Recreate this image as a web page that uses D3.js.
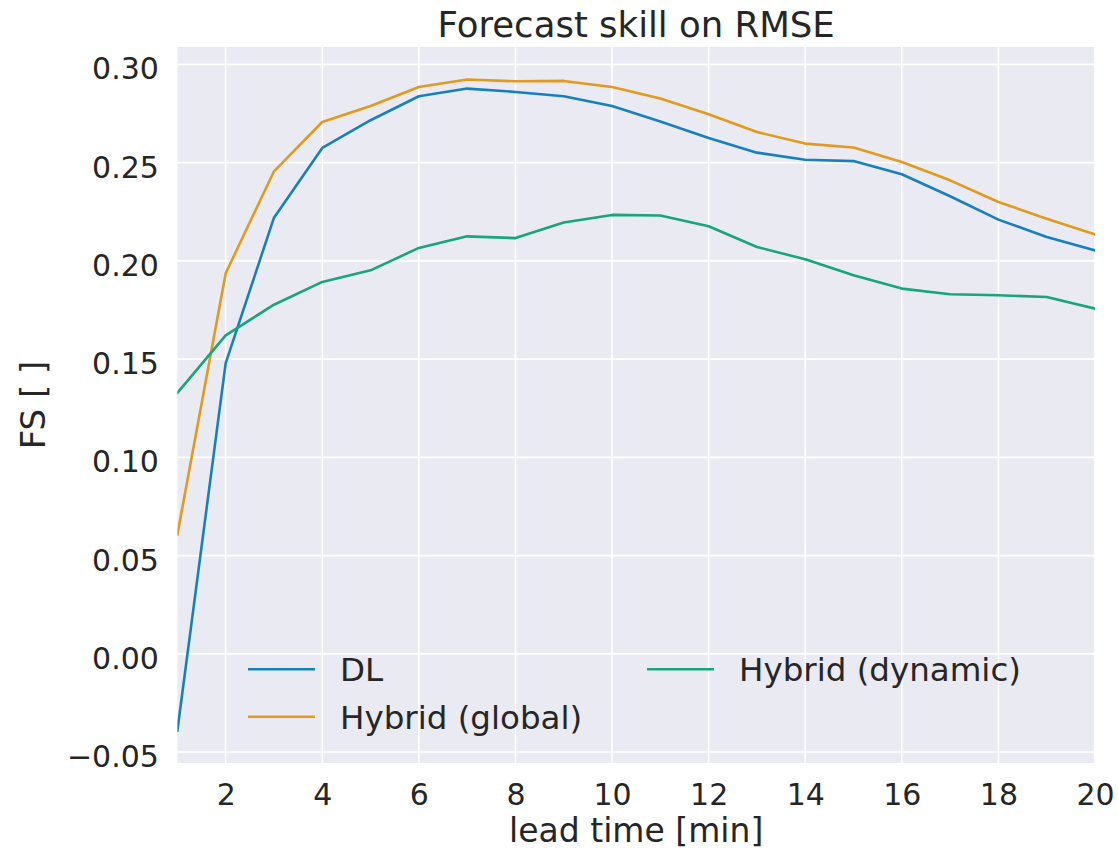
<!DOCTYPE html>
<html>
<head>
<meta charset="utf-8">
<script src="https://cdn.jsdelivr.net/npm/d3@7"></script>
<style>
  html, body { margin: 0; padding: 0; background: #ffffff; }
  svg { display: block; }
  text { font-family: "DejaVu Sans", sans-serif; fill: #262626; }
</style>
</head>
<body>
<svg id="chart" width="1118" height="850"></svg>
<script>
// ---- data ----
const leadTimes = [1,2,3,4,5,6,7,8,9,10,11,12,13,14,15,16,17,18,19,20];
const seriesNames = ["DL", "Hybrid (global)", "Hybrid (dynamic)"];
const dlValues = [-0.039, 0.148, 0.222, 0.2575, 0.2716, 0.2838, 0.2877, 0.2860, 0.2838, 0.2788,
                  0.2710, 0.2626, 0.2551, 0.2515, 0.2508, 0.2441, 0.2329, 0.2210, 0.2122, 0.2054];
const globalValues = [0.0608, 0.1937, 0.2456, 0.2707, 0.2788, 0.2885, 0.2923, 0.2914, 0.2916, 0.2885,
                      0.2826, 0.2746, 0.2656, 0.2597, 0.2577, 0.2503, 0.2410, 0.2300, 0.2215, 0.2135];
const dynamicValues = [0.1328, 0.1621, 0.1777, 0.1893, 0.1952, 0.2066, 0.2125, 0.2116, 0.2195, 0.2234,
                       0.2231, 0.2176, 0.2071, 0.2008, 0.1927, 0.1859, 0.1830, 0.1825, 0.1816, 0.1757];
const xTicks = [2,4,6,8,10,12,14,16,18,20];
const yTicks = [-0.05, 0.00, 0.05, 0.10, 0.15, 0.20, 0.25, 0.30];
const seriesColors = ["#1580c0", "#e3991c", "#17a57c"];

// ---- layout ----
const plot = { left: 177.4, right: 1095, top: 47, bottom: 763 };
const svg = d3.select("#chart");

const allVals = dlValues.concat(globalValues, dynamicValues);
const [vmin, vmax] = d3.extent(allVals);
const pad = (vmax - vmin) * 0.05;

const x = d3.scaleLinear().domain([1, 20]).range([plot.left, plot.right]);
const y = d3.scaleLinear().domain([vmin - pad, vmax + pad]).range([plot.bottom, plot.top]);

// background
svg.append("rect")
  .attr("x", plot.left).attr("y", plot.top)
  .attr("width", plot.right - plot.left).attr("height", plot.bottom - plot.top)
  .attr("fill", "#eaeaf2");

// grid
const grid = svg.append("g");
grid.selectAll(".gx").data(xTicks).enter().append("line")
  .attr("x1", d => x(d)).attr("x2", d => x(d))
  .attr("y1", plot.top).attr("y2", plot.bottom)
  .attr("stroke", "#ffffff").attr("stroke-width", 1.6);
grid.selectAll(".gy").data(yTicks).enter().append("line")
  .attr("y1", d => y(d)).attr("y2", d => y(d))
  .attr("x1", plot.left).attr("x2", plot.right)
  .attr("stroke", "#ffffff").attr("stroke-width", 1.6);

// axes (labels only, via d3 axis)
const tickFont = 30;
const xAxis = svg.append("g")
  .attr("transform", `translate(0,${plot.bottom})`)
  .call(d3.axisBottom(x).tickValues(xTicks).tickFormat(d3.format("d")).tickSize(0).tickPadding(0));
xAxis.select(".domain").remove();
xAxis.selectAll("text")
  .attr("y", 41.5).attr("dy", null)
  .style("font-size", tickFont + "px")
  .style("font-family", "DejaVu Sans, sans-serif")
  .attr("fill", "#262626");

const minusFmt = d => (d < 0 ? "\u2212" : "") + d3.format(".2f")(Math.abs(d));
const yAxis = svg.append("g")
  .attr("transform", `translate(${plot.left},0)`)
  .call(d3.axisLeft(y).tickValues(yTicks).tickFormat(minusFmt).tickSize(0).tickPadding(0));
yAxis.select(".domain").remove();
yAxis.selectAll("text")
  .attr("x", -18.5).attr("dy", null).attr("y", 14.5)
  .style("font-size", tickFont + "px")
  .style("font-family", "DejaVu Sans, sans-serif")
  .attr("fill", "#262626");

// lines
const seriesValues = [dlValues, globalValues, dynamicValues];
const lineGen = d3.line().x((d, i) => x(leadTimes[i])).y(d => y(d));
svg.append("clipPath").attr("id", "clip").append("rect")
  .attr("x", plot.left).attr("y", plot.top)
  .attr("width", plot.right - plot.left).attr("height", plot.bottom - plot.top);
svg.append("g").attr("clip-path", "url(#clip)")
  .selectAll("path").data(seriesValues).enter().append("path")
  .attr("d", d => lineGen(d))
  .attr("fill", "none")
  .attr("stroke", (d, i) => seriesColors[i])
  .attr("stroke-width", 2.6)
  .attr("stroke-linejoin", "round")
  .attr("stroke-linecap", "square");

// title
svg.append("text")
  .attr("x", (plot.left + plot.right) / 2).attr("y", 37)
  .attr("text-anchor", "middle")
  .style("font-size", "35.5px")
  .text("Forecast skill on RMSE");

// axis labels
svg.append("text")
  .attr("x", (plot.left + plot.right) / 2).attr("y", 842)
  .attr("text-anchor", "middle")
  .style("font-size", "33px")
  .text("lead time [min]");
svg.append("text")
  .attr("transform", `translate(45,${(plot.top + plot.bottom) / 2}) rotate(-90)`)
  .attr("text-anchor", "middle")
  .style("font-size", "34px")
  .text("FS [ ]");

// legend
const legendFont = 32.5;
const legendItems = [
  { name: seriesNames[0], color: seriesColors[0], lx: 248, ly: 669.3 },
  { name: seriesNames[1], color: seriesColors[1], lx: 248, ly: 716.7 },
  { name: seriesNames[2], color: seriesColors[2], lx: 647, ly: 669.3 }
];
const lg = svg.append("g").selectAll("g").data(legendItems).enter().append("g");
lg.append("line")
  .attr("x1", d => d.lx).attr("x2", d => d.lx + 67)
  .attr("y1", d => d.ly).attr("y2", d => d.ly)
  .attr("stroke", d => d.color).attr("stroke-width", 2.6);
lg.append("text")
  .attr("x", d => d.lx + 92)
  .attr("y", d => d.ly + 0.3645 * legendFont)
  .style("font-size", legendFont + "px")
  .text(d => d.name);
</script>
</body>
</html>
